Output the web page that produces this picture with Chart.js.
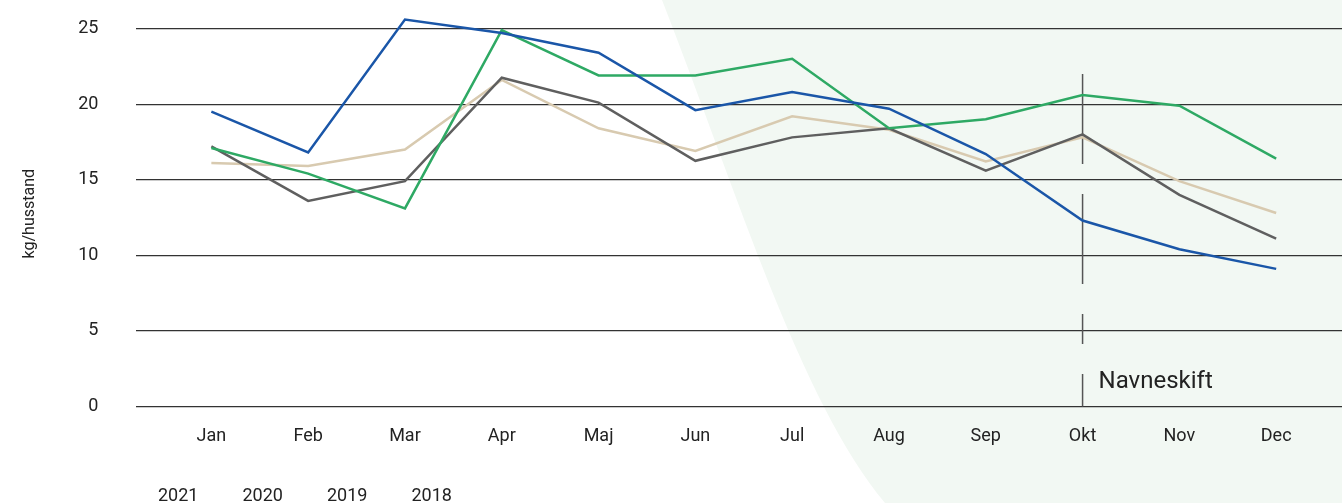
<!DOCTYPE html>
<html>
<head>
<meta charset="utf-8">
<script src="https://cdn.jsdelivr.net/npm/chart.js"></script>
<style>
  html, body { margin: 0; padding: 0; background: #fff; }
  #wrap { width: 1342px; height: 503px; }
</style>
</head>
<body>
<div id="wrap"><canvas id="chart"></canvas></div>
<script>
const months = ["Jan","Feb","Mar","Apr","Maj","Jun","Jul","Aug","Sep","Okt","Nov","Dec"];
const years = ["2021","2020","2019","2018"];
const yTicks = [0, 5, 10, 15, 20, 25];

const y2021 = [19.5, 16.8, 25.6, 24.7, 23.4, 19.6, 20.8, 19.7, 16.7, 12.3, 10.4, 9.1];
const y2020 = [17.1, 15.4, 13.1, 24.9, 21.9, 21.9, 23.0, 18.4, 19.0, 20.6, 19.9, 16.4];
const y2019 = [17.2, 13.6, 14.9, 21.75, 20.1, 16.25, 17.8, 18.4, 15.6, 18.0, 14.0, 11.1];
const y2018 = [16.1, 15.9, 17.0, 21.6, 18.4, 16.9, 19.2, 18.3, 16.2, 17.8, 14.9, 12.8];

const colors = ["#1a56a8", "#2ea964", "#5f5f5f", "#d8cab0"];
const markerMonth = 9; // Okt
const markerText = "Navneskift";

const series = [y2021, y2020, y2019, y2018];

// light green background shape
const bgShape = {
  id: "bgShape",
  beforeDraw(chart) {
    const c = chart.ctx;
    const w = chart.width, h = chart.height;
    c.save();
    c.fillStyle = "#f2f8f3";
    c.beginPath();
    c.moveTo(662, 0);
    c.bezierCurveTo(740, 200, 800, 400, 885, h);
    c.lineTo(w, h);
    c.lineTo(w, 0);
    c.closePath();
    c.fill();
    c.restore();
  }
};

// dashed marker line + label
const marker = {
  id: "marker",
  beforeDatasetsDraw(chart) {
    const c = chart.ctx;
    const x = chart.scales.x.getPixelForValue(markerMonth);
    const yBottom = chart.scales.y.getPixelForValue(0);
    const yTop = chart.scales.y.getPixelForValue(22);
    c.save();
    c.strokeStyle = "#555";
    c.lineWidth = 1.5;
    c.setLineDash([90, 30, 90, 30, 30, 30, 40]);
    c.beginPath();
    c.moveTo(x, yTop);
    c.lineTo(x, yBottom);
    c.stroke();
    c.setLineDash([]);
    c.fillStyle = "#222";
    c.font = "24px Roboto";
    c.textBaseline = "alphabetic";
    c.fillText(markerText, x + 16, yBottom - 18);
    c.restore();
  }
};

// move legend under the plot
const legendPos = {
  id: "legendPos",
  afterLayout(chart) {
    const lg = chart.legend;
    const w = lg.right - lg.left;
    lg.left = 114;
    lg.right = 114 + w;
    lg.top += 12;
    lg.bottom += 12;
  }
};

new Chart(document.getElementById("chart"), {
  type: "line",
  data: {
    datasets: series.map((s, i) => ({
      label: years[i],
      data: s.map((v, j) => ({ x: j, y: v })),
      borderColor: colors[i],
      backgroundColor: colors[i],
      borderWidth: 2.5,
      pointRadius: 0,
      tension: 0,
      clip: false
    }))
  },
  options: {
    responsive: true,
    maintainAspectRatio: false,
    animation: false,
    layout: { padding: { top: 21, bottom: 0, left: 0, right: 0 } },
    plugins: {
      tooltip: { enabled: false },
      legend: {
        position: "bottom",
        align: "start",
        labels: {
          color: "#222",
          font: { family: "Roboto", size: 18 },
          boxWidth: 26,
          padding: 9,
          generateLabels(chart) {
            return chart.data.datasets.map((d, i) => ({
              text: d.label,
              fillStyle: "rgba(0,0,0,0)",
              strokeStyle: "rgba(0,0,0,0)",
              lineWidth: 0,
              fontColor: "#222",
              datasetIndex: i
            }));
          }
        }
      }
    },
    scales: {
      x: {
        type: "linear",
        min: -0.774,
        max: 11.68,
        afterBuildTicks(scale) {
          scale.ticks = months.map((m, i) => ({ value: i }));
        },
        ticks: {
          color: "#222",
          font: { family: "Roboto", size: 18 },
          padding: 19,
          callback: (v) => months[v]
        },
        grid: { display: false, drawTicks: false },
        border: { display: false }
      },
      y: {
        min: 0,
        max: 25.5,
        afterBuildTicks(scale) {
          scale.ticks = yTicks.map((v) => ({ value: v }));
        },
        afterFit(scale) {
          scale.paddingTop = 0;
          scale.paddingBottom = 0;
        },
        ticks: {
          color: "#222",
          font: { family: "Roboto", size: 18 },
          padding: 38
        },
        grid: { color: "#333", lineWidth: 1.2, drawTicks: false },
        border: { display: false },
        title: {
          display: true,
          text: "kg/husstand",
          color: "#222",
          font: { family: "Roboto", size: 16 },
          padding: { top: 20, bottom: 1 }
        }
      }
    }
  },
  plugins: [bgShape, marker, legendPos]
});
</script>
</body>
</html>
